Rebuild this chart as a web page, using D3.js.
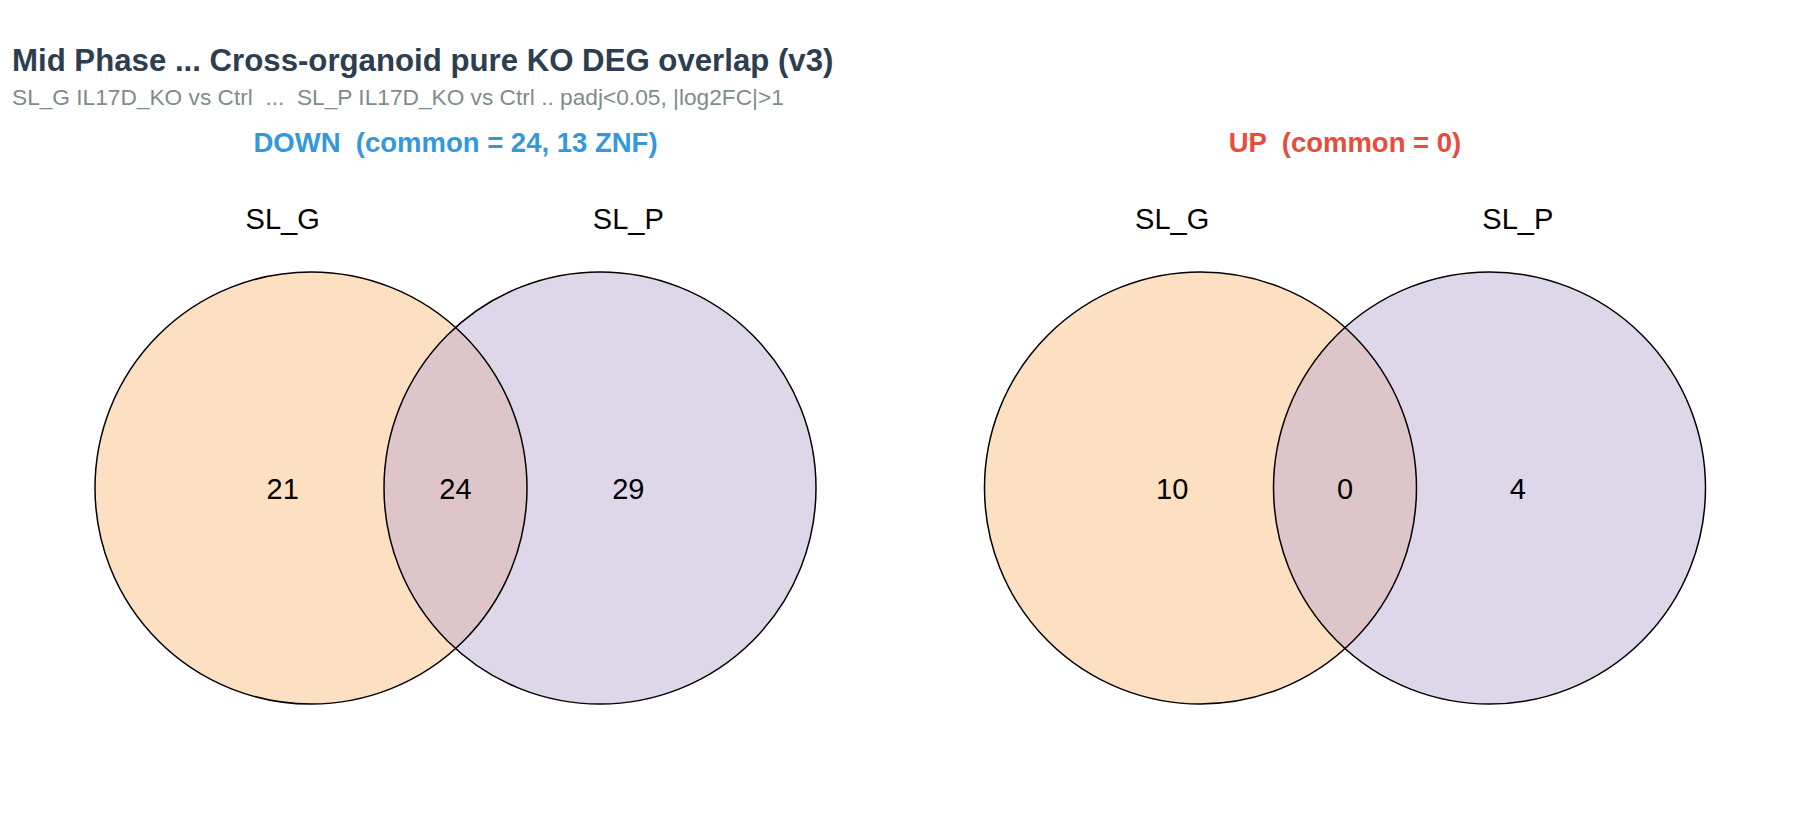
<!DOCTYPE html>
<html>
<head>
<meta charset="utf-8">
<script src="https://cdn.jsdelivr.net/npm/d3@7"></script>
<style>
  body { margin: 0; background: #ffffff; }
  svg text { font-family: "Liberation Sans", Arial, sans-serif; white-space: pre; }
</style>
</head>
<body>
<div id="chart"></div>
<script>

// DATA -----------------------------------------------------------------------

var panels = ["DOWN", "UP"];
var panelTitles = ["DOWN  (common = 24, 13 ZNF)", "UP  (common = 0)"];
var setNames = ["SL_G", "SL_P"];
var onlyG = [21, 10];   // SL_G only
var common = [24, 0];   // shared
var onlyP = [29, 4];    // SL_P only

var mainTitle = "Mid Phase ... Cross-organoid pure KO DEG overlap (v3)";
var subTitle = "SL_G IL17D_KO vs Ctrl  ...  SL_P IL17D_KO vs Ctrl .. padj<0.05, |log2FC|>1";


// STYLE ----------------------------------------------------------------------

var width = 1800, height = 825;
var panelColors = { DOWN: "#3498db", UP: "#e74c3c" };
var fillG = "#fddfc2", fillP = "#ddd7e9", fillGP = "#dec5ca";
var R = 216;            // circle radius, px
var cy = 488;           // vertical centre of the circles
var cOff = 0.669;       // circle centre offset, in radius units
var lOff = 0.80;        // subset label offset, in radius units

var svg = d3.select("#chart").append("svg")
    .attr("width", width)
    .attr("height", height);

// Titles
svg.append("text")
    .attr("x", 12).attr("y", 71)
    .attr("font-size", 31.2).attr("font-weight", "bold")
    .attr("fill", "#2c3e50")
    .text(mainTitle);

svg.append("text")
    .attr("x", 12).attr("y", 104.5)
    .attr("font-size", 22.7)
    .attr("fill", "#7f8c8d")
    .text(subTitle);

// one point per panel; circle geometry in radius units inside each panel
var xPanel = d3.scalePoint().domain(panels).range([455.5, 1345]);
var yUnit = d3.scaleLinear().domain([-1, 1]).range([cy + R, cy - R]);

panels.forEach(function(p, i) {
    var cx = xPanel(p);
    var xUnit = d3.scaleLinear().domain([-1, 1]).range([cx - R, cx + R]);
    var g = svg.append("g").attr("class", "venn-" + p);

    // panel header
    g.append("text")
        .attr("x", cx).attr("y", 152)
        .attr("text-anchor", "middle")
        .attr("font-size", 27.5).attr("font-weight", "bold")
        .attr("fill", panelColors[p])
        .text(panelTitles[i]);

    var ax = xUnit(-cOff), bx = xUnit(cOff), ccy = yUnit(0);
    var r = xUnit(1) - xUnit(0);

    // filled circles
    g.append("circle").attr("cx", ax).attr("cy", ccy).attr("r", r).attr("fill", fillG);
    g.append("circle").attr("cx", bx).attr("cy", ccy).attr("r", r).attr("fill", fillP);

    // lens (intersection) from the two circles
    var half = (bx - ax) / 2;
    var h = Math.sqrt(r * r - half * half);
    var mx = ax + half;
    var lens = d3.path();
    lens.moveTo(mx, ccy - h);
    lens.arc(bx, ccy, r, Math.atan2(-h, -half), Math.atan2(h, -half), true);
    lens.arc(ax, ccy, r, Math.atan2(h, half), Math.atan2(-h, half), true);
    lens.closePath();
    g.append("path").attr("d", lens.toString()).attr("fill", fillGP);

    // outlines
    [ax, bx].forEach(function(x) {
        g.append("circle").attr("cx", x).attr("cy", ccy).attr("r", r)
            .attr("fill", "none").attr("stroke", "#000").attr("stroke-width", 1.5);
    });

    // set labels
    g.selectAll(".setLabel").data(setNames).enter()
        .append("text")
        .attr("class", "setLabel")
        .attr("x", function(d, j) { return xUnit(j === 0 ? -lOff : lOff); })
        .attr("y", yUnit(1.2))
        .attr("text-anchor", "middle")
        .attr("font-size", 29)
        .attr("fill", "#000")
        .text(function(d) { return d; });

    // subset counts
    var counts = [onlyG[i], common[i], onlyP[i]];
    var pos = [-lOff, 0, lOff];
    g.selectAll(".count").data(counts).enter()
        .append("text")
        .attr("class", "count")
        .attr("x", function(d, j) { return xUnit(pos[j]); })
        .attr("y", yUnit(0))
        .attr("dy", "0.38em")
        .attr("text-anchor", "middle")
        .attr("font-size", 29)
        .attr("fill", "#000")
        .text(function(d) { return d; });
});

</script>
</body>
</html>
